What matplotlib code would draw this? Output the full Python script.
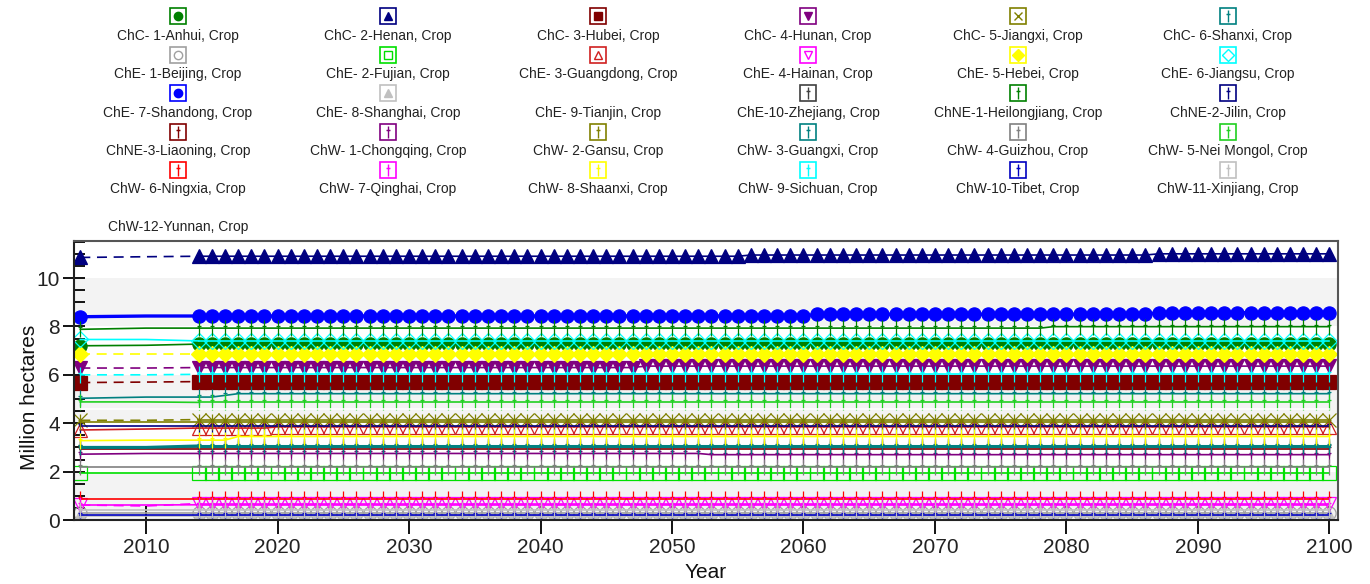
import numpy as np
import matplotlib
matplotlib.use('Agg')
import matplotlib.pyplot as plt
from matplotlib.path import Path
from matplotlib.patches import Rectangle

plt.rcParams['font.family'] = ['Liberation Sans', 'DejaVu Sans']

##### Data #####
years = [2005, 2010] + list(range(2014, 2101))

def hold(v2005, v2010, *steps):
    # steps = (first year, value) for the yearly part 2014-2100
    out = [v2005, v2010]
    for k, (yr, val) in enumerate(steps):
        end = steps[k + 1][0] if k + 1 < len(steps) else 2101
        out += [val] * (end - yr)
    return out

anhui = hold(7.20, 7.22, (2014, 7.27))
henan = hold(10.85, 10.88, (2014, 10.90), (2056, 10.95), (2087, 11.00))
hubei = hold(5.68, 5.70, (2014, 5.72))
hunan = hold(6.28, 6.28, (2014, 6.30), (2048, 6.36))
jiangxi = hold(4.12, 4.12, (2014, 4.15))
shanxi = hold(5.03, 5.08, (2014, 5.08), (2016, 5.15), (2017, 5.22))
beijing = hold(0.30, 0.30, (2014, 0.30))
fujian = hold(1.96, 1.96, (2014, 1.96))
guangdong = hold(3.72, 3.76, (2014, 3.80), (2020, 3.85))
hainan = hold(0.62, 0.58, (2014, 0.68))
hebei = hold(6.88, 6.88, (2014, 6.88))
jiangsu = hold(7.46, 7.46, (2014, 7.40))
shandong = hold(8.40, 8.43, (2014, 8.43), (2061, 8.50), (2087, 8.57))
shanghai = hold(0.15, 0.15, (2014, 0.15))
tianjin = hold(2.62, 2.62, (2014, 2.62))
zhejiang = hold(3.00, 3.00, (2014, 3.02))
heilongjiang = hold(7.88, 7.93, (2014, 7.93), (2079, 7.99))
jilin = hold(3.88, 3.88, (2014, 3.88))
liaoning = hold(2.95, 2.95, (2014, 2.95))
chongqing = hold(2.72, 2.75, (2014, 2.75), (2053, 2.70))
gansu = hold(4.05, 4.05, (2014, 4.05))
guangxi = hold(3.00, 3.00, (2014, 3.06))
guizhou = hold(2.20, 2.20, (2014, 2.20))
neimongol = hold(4.88, 4.88, (2014, 4.86))
ningxia = hold(0.87, 0.87, (2014, 0.87))
qinghai = hold(0.62, 0.62, (2014, 0.63))
shaanxi = hold(3.28, 3.30, (2014, 3.30), (2017, 3.45))
sichuan = hold(6.00, 6.00, (2014, 6.02))
tibet = hold(0.20, 0.20, (2014, 0.20))
xinjiang = hold(0.42, 0.42, (2014, 0.42))
yunnan = hold(4.60, 4.60, (2014, 4.60))

names = ['ChC- 1-Anhui', 'ChC- 2-Henan', 'ChC- 3-Hubei', 'ChC- 4-Hunan', 'ChC- 5-Jiangxi', 'ChC- 6-Shanxi',
         'ChE- 1-Beijing', 'ChE- 2-Fujian', 'ChE- 3-Guangdong', 'ChE- 4-Hainan', 'ChE- 5-Hebei', 'ChE- 6-Jiangsu',
         'ChE- 7-Shandong', 'ChE- 8-Shanghai', 'ChE- 9-Tianjin', 'ChE-10-Zhejiang', 'ChNE-1-Heilongjiang', 'ChNE-2-Jilin',
         'ChNE-3-Liaoning', 'ChW- 1-Chongqing', 'ChW- 2-Gansu', 'ChW- 3-Guangxi', 'ChW- 4-Guizhou', 'ChW- 5-Nei Mongol',
         'ChW- 6-Ningxia', 'ChW- 7-Qinghai', 'ChW- 8-Shaanxi', 'ChW- 9-Sichuan', 'ChW-10-Tibet', 'ChW-11-Xinjiang',
         'ChW-12-Yunnan']
values = [anhui, henan, hubei, hunan, jiangxi, shanxi,
          beijing, fujian, guangdong, hainan, hebei, jiangsu,
          shandong, shanghai, tianjin, zhejiang, heilongjiang, jilin,
          liaoning, chongqing, gansu, guangxi, guizhou, neimongol,
          ningxia, qinghai, shaanxi, sichuan, tibet, xinjiang,
          yunnan]

##### Styles #####
colors = ['#008000', '#000080', '#800000', '#800080', '#808000', '#008080',
          '#a0a0a0', '#00e000', '#d02020', '#ff00ff', '#ffff00', '#00ffff',
          '#0000ff', '#c0c0c0', '#ffffff', '#404040', '#008000', '#000080',
          '#800000', '#800080', '#808000', '#008080', '#808080', '#20d020',
          '#ff0000', '#ff00ff', '#ffff00', '#00ffff', '#0000c0', '#c0c0c0',
          '#ffffff']
# tick marker: vertical bar with a short cross bar
tick = Path([(0, -1), (0, 1), (-0.25, 0.3), (0.25, 0.3)],
            [Path.MOVETO, Path.LINETO, Path.MOVETO, Path.LINETO])
markers = ['o', '^', 's', 'v', 'x', tick,
           'o', 's', '^', 'v', 'D', 'D',
           'o', '^', None, tick, tick, tick,
           tick, tick, tick, tick, tick, tick,
           tick, tick, tick, tick, tick, tick,
           None]
filled = [True, True, True, True, True, True,
          False, False, False, False, True, False,
          True, True, True, True, True, True,
          True, True, True, True, True, True,
          True, True, True, True, True, True,
          True]
dashed = ['ChC- 2-Henan', 'ChC- 3-Hubei', 'ChC- 4-Hunan', 'ChC- 5-Jiangxi',
          'ChE- 4-Hainan', 'ChE- 5-Hebei', 'ChW- 9-Sichuan']
thick = {'ChE- 7-Shandong': 2.4, 'ChW- 3-Guangxi': 2.2}

##### Figure #####
fig = plt.figure(figsize=(13.7, 5.84), dpi=100)

# legend panel (pixel coordinates)
leg = fig.add_axes([0, 0, 1, 1])
leg.set_xlim(0, 1370)
leg.set_ylim(584, 0)
leg.axis('off')

for i, name in enumerate(names):
    cx = 178 + 210 * (i % 6)
    by = 16 + 38.5 * (i // 6)
    ty = 36 + 38.3 * (i // 6)
    leg.add_patch(Rectangle((cx - 8, by - 8), 16, 16, fill=False, ec=colors[i], lw=1.2))
    if markers[i] is not None:
        ms = 9 if markers[i] is tick else 6
        leg.plot([cx], [by], marker=markers[i], ms=ms, color=colors[i], mew=1.0,
                 mfc=colors[i] if filled[i] else 'white', mec=colors[i])
    leg.text(cx, ty, name + ', Crop', ha='center', va='center', fontsize=10, color='#222222')

ax = fig.add_axes([74 / 1370, 64 / 584, 1264 / 1370, 279 / 584])

for lo in [0, 4, 8]:
    ax.axhspan(lo, lo + 2, color='#f3f3f3', zorder=0, lw=0)

every = [0] + list(range(2, len(years)))
for i, name in enumerate(names):
    lw = thick.get(name, 1.2)
    ls0 = (0, (6, 4)) if name in dashed else '-'
    ax.plot(years[:3], values[i][:3], color=colors[i], lw=lw, ls=ls0, zorder=2 + i * 0.01)
    ms = 11 if markers[i] is tick else (8 if markers[i] == 'D' else 9.5)
    ax.plot(years[2:], values[i][2:], color=colors[i], lw=lw, zorder=2 + i * 0.01,
            marker=markers[i], ms=ms, mew=0.9,
            mfc=colors[i] if filled[i] else 'none', mec=colors[i])
    if markers[i] is not None:
        ax.plot(years[:1], values[i][:1], ls='none', marker=markers[i], ms=ms, mew=0.9,
                mfc=colors[i] if filled[i] else 'none', mec=colors[i], zorder=2 + i * 0.01)

ax.set_xlim(2004.52, 2100.65)
ax.set_ylim(0, 11.53)
ax.set_xticks(np.arange(2010, 2101, 10))
ax.set_yticks(np.arange(0, 11, 2))
ax.set_yticks(np.arange(0, 11.6, 0.5), minor=True)
ax.tick_params(axis='y', which='major', direction='inout', length=16, width=1.3, labelsize=15, pad=2,
               labelcolor='#222222')
ax.tick_params(axis='y', which='minor', direction='in', length=8, width=1.3)
ax.tick_params(axis='x', which='major', direction='inout', length=20, width=1.3, labelsize=15, pad=3,
               labelcolor='#222222')
for s in ['left', 'bottom']:
    ax.spines[s].set_color('#222222')
    ax.spines[s].set_linewidth(1.5)
for s in ['top', 'right']:
    ax.spines[s].set_color('#555555')
    ax.spines[s].set_linewidth(1.5)

fig.text(30 / 1370, 1 - 397 / 584, 'Million hectares', rotation=90, ha='center', va='center',
         fontsize=15, color='#111111')
fig.text(706 / 1370, 1 - 572 / 584, 'Year', ha='center', va='center', fontsize=15, color='#111111')

plt.savefig('out.png', dpi=100)
